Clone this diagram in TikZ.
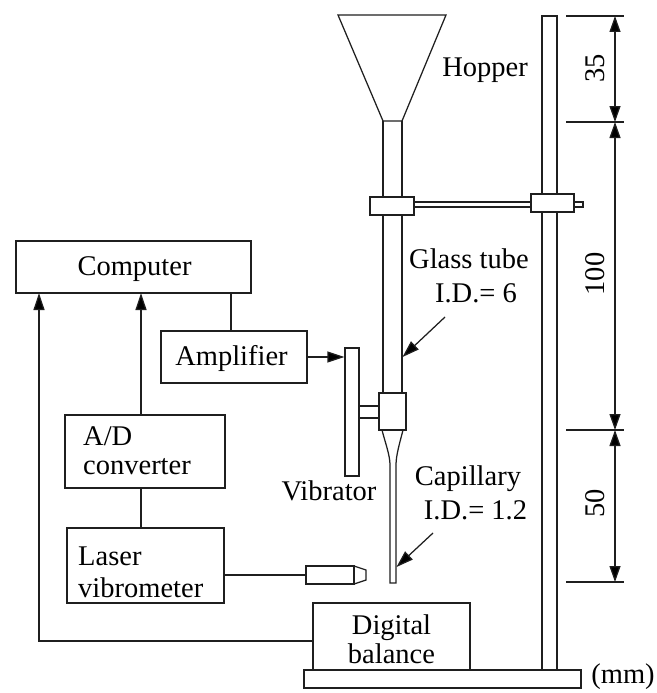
\documentclass[tikz,border=0pt]{standalone}
\usepackage{fontspec}
\setmainfont{Liberation Serif}
\usetikzlibrary{arrows.meta,calc}
\tikzset{
  line/.style={line width=1.25pt,draw=black!88},
  box/.style={line,rectangle,inner sep=0pt,align=center,font=\fontsize{28.5}{33}\selectfont},
  lab/.style={inner sep=0pt,align=center,font=\fontsize{28.5}{33}\selectfont},
  dimlab/.style={lab,rotate=90},
  tip/.style={-{Triangle[length=17pt,width=11pt,fill=black]},line},
  dimtip/.style={{Triangle[length=16pt,width=11pt,fill=black]}-{Triangle[length=16pt,width=11pt,fill=black]},line},
  part/.style={line,fill=white},
}
\begin{document}
\begin{tikzpicture}[x=1pt,y=-1pt]
\useasboundingbox (0,0) rectangle (656,693);
% hopper and tube
\draw[part] (338,15) -- (446,15) -- (402,121) -- (383,121) -- cycle;
\draw[line] (383,121) -- (383,393) (402,121) -- (402,393);
% stand
\draw[part] (304,670) rectangle (581,688);
\draw[part] (542,16) rectangle (557,670);
% clamps
\draw[part] (414,202) rectangle (531,207);
\draw[part] (574,202) rectangle (583,207);
\node[box,fill=white,minimum width=44pt,minimum height=18pt] (clampa) at (392,206) {};
\node[box,fill=white,minimum width=43pt,minimum height=18pt] (clampb) at (552.5,203) {};
% vibrator
\node[box,minimum width=14pt,minimum height=128pt] (vib) at (352,412) {};
\draw[line] (359,406) -- (379,406) (359,418) -- (379,418);
\node[box,minimum width=27pt,minimum height=37pt] (block) at (392.5,411.5) {};
% capillary
\draw[line] (382,430) .. controls (385,442) and (390,455) .. (390,465) -- (390,583) -- (396,583) -- (396,465) .. controls (396,455) and (400,442) .. (403,430);
% sensor
\node[box,minimum width=48pt,minimum height=18pt] (sensor) at (330,575) {};
\draw[line] (354,566) -- (366,570) -- (366,580) -- (354,584);
% boxes
\node[box,minimum width=235pt,minimum height=52pt] (comp) at (133.5,267) {};
\node[lab,anchor=base] (comptext) at (134.5,275) {Computer};
\node[box,minimum width=146pt,minimum height=52pt] (amp) at (234,357) {};
\node[lab,anchor=base] (amptext) at (231.5,365) {Amplifier};
\node[box,minimum width=160pt,minimum height=73pt] (ad) at (145,451.5) {};
\node[lab,anchor=base west] (adtexta) at (83,445) {A/D};
\node[lab,anchor=base west] (adtextb) at (83,474) {converter};
\node[box,minimum width=157pt,minimum height=75pt] (laser) at (145.5,565.5) {};
\node[lab,anchor=base west] (lasertexta) at (78,565) {Laser};
\node[lab,anchor=base west] (lasertextb) at (78,597) {vibrometer};
\node[box,minimum width=157pt,minimum height=67pt] (bal) at (391.5,636.5) {};
\node[lab,anchor=base] (baltexta) at (391.5,634) {Digital};
\node[lab,anchor=base] (baltextb) at (391.5,663) {balance};
% connectors
\coordinate (compa) at (39,293);
\coordinate (compb) at (141,293);
\coordinate (compc) at (231,293);
\coordinate (corner) at (39,641);
\draw[tip] (bal.west |- corner) -- (corner) -- (compa);
\draw[tip] (compb |- ad.north) -- (compb);
\draw[line] (compc) -- (compc |- amp.north);
\draw[line] (compb |- ad.south) -- (compb |- laser.north);
\draw[line] (laser.east |- sensor.west) -- (sensor.west);
\draw[tip] (amp.east) -- (vib.west |- amp.east);
% pointers
\coordinate (glassfrom) at (445,317);
\coordinate (glassto) at (402.5,357);
\coordinate (capfrom) at (433,533);
\coordinate (capto) at (396.5,567);
\draw[tip] (glassfrom) -- (glassto);
\draw[tip] (capfrom) -- (capto);
% dimensions
\coordinate (da) at (566,16);
\coordinate (db) at (566,122);
\coordinate (dc) at (566,430);
\coordinate (dd) at (566,582);
\foreach \p in {da,db,dc,dd} \draw[line] (\p) -- ++(58,0);
\draw[dimtip] ($(da)+(49,0)$) -- ($(db)+(49,0)$);
\draw[dimtip] ($(db)+(49,0)$) -- ($(dc)+(49,0)$);
\draw[dimtip] ($(dc)+(49,0)$) -- ($(dd)+(49,0)$);
\node[dimlab] (dima) at (595,68) {35};
\node[dimlab] (dimb) at (595,274) {100};
\node[dimlab] (dimc) at (595,503) {50};
% labels
\node[lab,anchor=base] (hop) at (485,76) {Hopper};
\node[lab,anchor=base] (glassa) at (469,268) {Glass tube};
\node[lab,anchor=base] (glassb) at (476,302) {I.D.= 6};
\node[lab,anchor=base] (capa) at (468,485) {Capillary};
\node[lab,anchor=base] (capb) at (475.5,519) {I.D.= 1.2};
\node[lab,anchor=base] (vibtext) at (329,500) {Vibrator};
\node[lab,anchor=base] (mm) at (623,683) {(mm)};
\end{tikzpicture}
\end{document}
